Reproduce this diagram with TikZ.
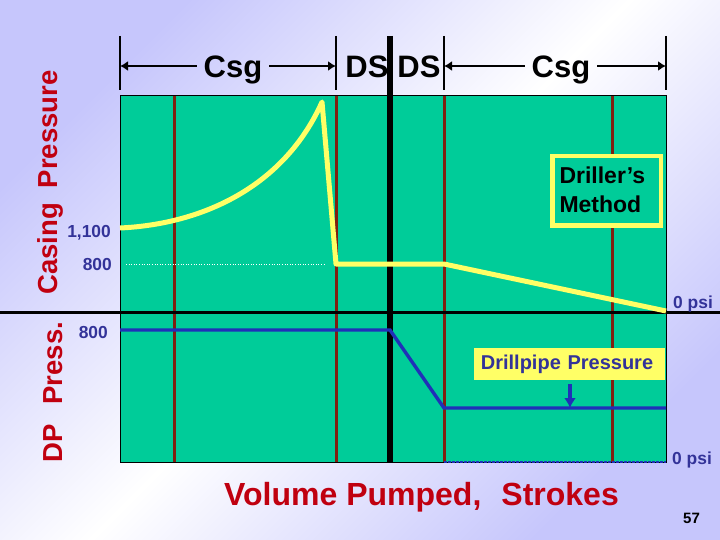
\documentclass[tikz,border=0pt]{standalone}
\usepackage{fontspec}
\setmainfont{Liberation Sans}
\definecolor{bgblue}{RGB}{198,198,252}
\definecolor{chartgreen}{RGB}{0,204,153}
\definecolor{stagered}{RGB}{128,32,16}
\definecolor{curveyellow}{RGB}{255,255,102}
\definecolor{dpblue}{RGB}{32,48,184}
\definecolor{labelblue}{RGB}{51,51,153}
\definecolor{axisred}{RGB}{192,0,16}
\usetikzlibrary{arrows.meta}
\tikzset{
  csglabel/.style={font=\bfseries\fontsize{31}{34}\selectfont, text=black, inner sep=7pt, anchor=base},
  axislabel/.style={font=\bfseries\fontsize{27.5}{30}\selectfont, text=axisred, rotate=90, inner sep=0pt, anchor=base west},
  presslabel/.style={font=\bfseries\fontsize{17.4}{20}\selectfont, text=labelblue, inner sep=0pt},
  stageline/.style={stagered, line width=3pt},
  tickline/.style={black, line width=1.5pt},
  dimarrow/.style={black, line width=2.6pt, -{Latex[length=8pt,width=10pt]}},
  caspress/.style={curveyellow, line width=5pt, line join=round},
  dppress/.style={dpblue, line width=3.4pt}
}
\begin{document}
\begin{tikzpicture}[x=1pt,y=-1pt]
\useasboundingbox (0,0) rectangle (720,540);
\shade[top color=bgblue, bottom color=bgblue, middle color=white, shading angle=45] (0,0) rectangle (720,540);
\draw[black, fill=chartgreen, line width=1pt] (120,96) rectangle (666,462);
\foreach \stagex in {174,336,444,612}
  \draw[stageline] (\stagex,96) -- (\stagex,462);
\draw[white, dotted, line width=0.6pt] (126,264.5) -- (325,264.5);
\draw[black, line width=6pt] (390,36) -- (390,462);
\draw[black, line width=3pt] (0,312.5) -- (720,312.5);
\foreach \tickx in {120,336,444,666}
  \draw[tickline] (\tickx,36) -- (\tickx,90);
\coordinate (tickA) at (120,66);
\coordinate (tickB) at (336,66);
\coordinate (tickC) at (444,66);
\coordinate (tickD) at (666,66);
\node[csglabel] (csgleft) at (233,78) {Csg};
\node[csglabel] (csgright) at (561,78) {Csg};
\draw[dimarrow] (csgleft.west |- tickA) -- (tickA);
\draw[dimarrow] (csgleft.east |- tickB) -- (tickB);
\draw[dimarrow] (csgright.west |- tickC) -- (tickC);
\draw[dimarrow] (csgright.east |- tickD) -- (tickD);
\node[csglabel, inner sep=0pt] (dsleft) at (367,78) {DS};
\node[csglabel, inner sep=0pt] (dsright) at (419,78) {DS};
\draw[caspress] (120,228) .. controls (205,224) and (285,185) .. (322,102) -- (336,264) -- (444,264) -- (666,311);
\draw[dppress] (120,330) -- (390,330) -- (444,408) -- (666,408);
\draw[dpblue, line width=2pt, dash pattern=on 2.5pt off 1.5pt] (444,462) -- (666,462);
\node[draw=curveyellow, line width=4.5pt, fill=chartgreen, minimum width=108.5pt, minimum height=69.5pt, inner sep=0pt] (drillerbox) at (606.5,191) {};
\node[text width=94pt, inner sep=0pt, align=left, font=\bfseries\fontsize{23}{29}\selectfont] (drillertext) at (606.5,189.5) {Driller’s\\Method};
\node[fill=curveyellow, minimum width=191pt, minimum height=32pt, inner sep=0pt, text width=177pt, align=center, text=labelblue, font=\bfseries\fontsize{20}{24}\selectfont] (drillpipe) at (569.5,364) {\hspace*{-5pt}Drillpipe Pressure};
\coordinate (dpline) at (570,408);
\draw[dpblue, line width=3.4pt, -{Latex[length=10pt,width=12pt]}] (570,384) -- (dpline);
\node[presslabel, anchor=base east] (casA) at (111,237) {1,100};
\node[presslabel, anchor=base east] (casB) at (112,270) {800};
\node[presslabel, anchor=base east] (dpA) at (108,338) {800};
\node[presslabel, anchor=base west] (zeroA) at (673,308) {0 psi};
\node[presslabel, anchor=base west] (zeroB) at (672,464) {0 psi};
\node[axislabel] (casing) at (57,295) {Casing\hspace{15pt}Pressure};
\node[axislabel] (dppressure) at (62,463) {DP\hspace{20pt}Press.};
\node[font=\bfseries\fontsize{32}{36}\selectfont, text=axisred, inner sep=0pt, anchor=base west] (volume) at (224,505) {Volume Pumped,\hspace{20pt}Strokes};
\node[font=\bfseries\fontsize{15}{16}\selectfont, inner sep=0pt, anchor=base] (pagenum) at (691.5,523) {57};
\end{tikzpicture}
\end{document}
